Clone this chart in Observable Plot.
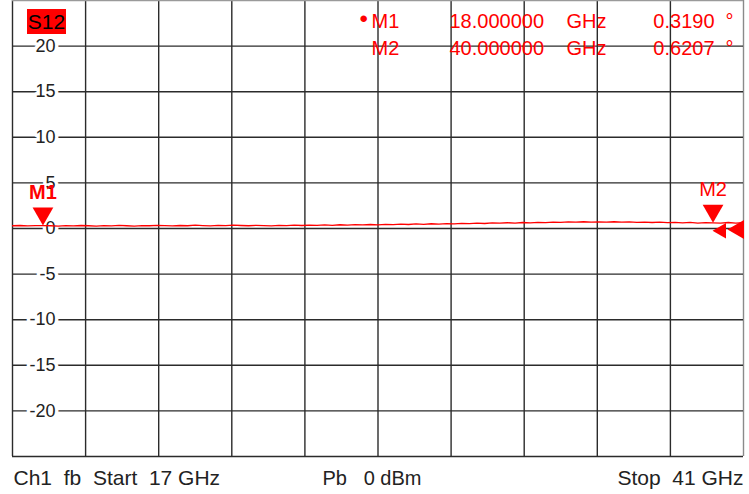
<!DOCTYPE html>
<html>
<head>
<meta charset="utf-8">
<script src="https://cdn.jsdelivr.net/npm/d3@7"></script>
<script src="https://cdn.jsdelivr.net/npm/@observablehq/plot@0.6"></script>
<style>
  html, body { margin: 0; padding: 0; background: #fff; }
  #wrap { position: relative; width: 749px; height: 494px; overflow: hidden; }
  svg text { white-space: pre; }
  #trace-tag { position: absolute; left: 27px; top: 9px; width: 39px; height: 25px;
    background: #ff0000; color: #000; font: 21px "Liberation Sans", Arial, sans-serif;
    line-height: 26px; text-align: center; }
</style>
</head>
<body>
<div id="wrap"><div id="trace-tag">S12</div></div>
<script>
// ---- data ----
const traceName = "S12";
const startGHz = 17;
const stopGHz = 41;
const stepGHz = 0.25;
// S12 phase (deg), 17 GHz .. 41 GHz every 0.25 GHz
const phaseDeg = [
  0.30, 0.33, 0.28, 0.31, 0.32, 0.30, 0.27, 0.31, 0.29, 0.33,
  0.30, 0.26, 0.31, 0.29, 0.34, 0.30, 0.27, 0.32, 0.30, 0.35,
  0.31, 0.28, 0.33, 0.30, 0.36, 0.32, 0.29, 0.34, 0.31, 0.37,
  0.33, 0.30, 0.35, 0.32, 0.29, 0.34, 0.31, 0.37, 0.33, 0.36,
  0.34, 0.39, 0.35, 0.41, 0.37, 0.42, 0.39, 0.44, 0.40, 0.46,
  0.42, 0.47, 0.44, 0.50, 0.46, 0.52, 0.48, 0.54, 0.50, 0.56,
  0.53, 0.58, 0.55, 0.61, 0.58, 0.63, 0.60, 0.66, 0.62, 0.68,
  0.64, 0.70, 0.67, 0.72, 0.69, 0.74, 0.70, 0.73, 0.69, 0.74,
  0.70, 0.72, 0.67, 0.71, 0.66, 0.70, 0.64, 0.68, 0.62, 0.67,
  0.60, 0.65, 0.62, 0.58, 0.66, 0.60, 0.63
];
const markerNames = ["M1", "M2"];
const markerFreqs = [18, 40];
const markerValues = [0.3190, 0.6207];
const xGrid = [17, 19.4, 21.8, 24.2, 26.6, 29, 31.4, 33.8, 36.2, 38.6, 41];
const yGrid = [-25, -20, -15, -10, -5, 0, 5, 10, 15, 20, 25];
const yLabels = [-20, -15, -10, -5, 0, 5, 10, 15, 20];
const footerLeft = "Ch1  fb  Start  17 GHz";
const footerMid = "Pb   0 dBm";
const footerRight = "Stop  41 GHz";

// ---- tables ----
const trace = phaseDeg.map((v, i) => ({f: startGHz + i * stepGHz, v}));
const markers = markerNames.map((n, i) => ({name: n, f: markerFreqs[i], v: markerValues[i], i}));
const refLevel = [{f: stopGHz, v: 0}];
const endTip = [{f: stopGHz, v: trace[trace.length - 1].v}];

const font = '"Liberation Sans", Arial, sans-serif';
const red = "#ff0000";

// one readout row per marker
const readoutMarks = markers.flatMap((m) => {
  const base = 27 + m.i * 27;
  const t = (text, dx, opts = {}) => Plot.text([m], {frameAnchor: "top-left", text: () => text, dx, dy: base,
    lineAnchor: "bottom", fontSize: 20, fill: red, ...opts});
  const row = [
    t(m.name, 359),
    t(m.f.toFixed(6), 437),
    t("GHz", 554),
    t(m.v.toFixed(4), 702, {textAnchor: "end"}),
    t("°", 713)
  ];
  if (m.i === 0) row.push(t("•", 347, {dy: base - 1, fontSize: 24}));
  return row;
});

const chart = Plot.plot({
  width: 749, height: 494,
  marginLeft: 12, marginRight: 6, marginTop: 0, marginBottom: 38,
  x: {domain: [startGHz, stopGHz], axis: null},
  y: {domain: [-25, 25], axis: null},
  style: {fontFamily: font, background: "transparent", overflow: "visible"},
  marks: [
    Plot.ruleX(xGrid.filter(d => d !== stopGHz), {stroke: "#2b2b2b", strokeWidth: 1.4}),
    Plot.ruleX([stopGHz], {stroke: "#8a8a8a", strokeWidth: 1.4}),
    Plot.ruleY(yGrid.filter(d => d !== 25), {stroke: "#2b2b2b", strokeWidth: 1.4}),
    Plot.ruleY([25], {stroke: "#9a9a9a", strokeWidth: 1.4}),
    Plot.text(yLabels, {x: startGHz, y: d => d, text: d => String(d), dx: 43, textAnchor: "end",
      fontSize: 18, fill: "#222", stroke: "white", strokeWidth: 7}),
    Plot.line(trace, {x: "f", y: "v", stroke: red, strokeWidth: 1.3, clip: true}),
    // marker triangles
    Plot.dot(markers, {x: "f", y: "v", symbol: "triangle2", r: 9.9, rotate: 180, dy: -12, fill: red, stroke: null}),
    Plot.text(markers.filter(m => m.i === 0), {x: "f", y: "v", text: "name", dy: -27, lineAnchor: "bottom",
      fontSize: 20, fill: red, fontWeight: "bold"}),
    Plot.text(markers.filter(m => m.i !== 0), {x: "f", y: "v", text: "name", dy: -27, lineAnchor: "bottom",
      fontSize: 20, fill: red}),
    // reference / end markers at right edge
    Plot.dot(endTip, {x: "f", y: "v", symbol: "triangle2", r: 7.4, rotate: 270, dx: -22, dy: 8, fill: red, stroke: null}),
    Plot.dot(refLevel, {x: "f", y: "v", symbol: "triangle2", r: 9.1, rotate: 270, dx: -5, dy: 1, fill: red, stroke: null}),
    ...readoutMarks,
    // footer
    Plot.text([footerLeft], {frameAnchor: "bottom-left", text: d => d, dx: 1, dy: 28, lineAnchor: "bottom",
      textAnchor: "start", fontSize: 21, fill: "#222"}),
    Plot.text([footerMid], {frameAnchor: "bottom-left", text: d => d, dx: 310, dy: 28, lineAnchor: "bottom",
      textAnchor: "start", fontSize: 20, fill: "#222"}),
    Plot.text([footerRight], {frameAnchor: "bottom-right", text: d => d, dx: 0, dy: 28, lineAnchor: "bottom",
      textAnchor: "end", fontSize: 21, fill: "#222"})
  ]
});
document.getElementById("wrap").prepend(chart);
</script>
</body>
</html>
